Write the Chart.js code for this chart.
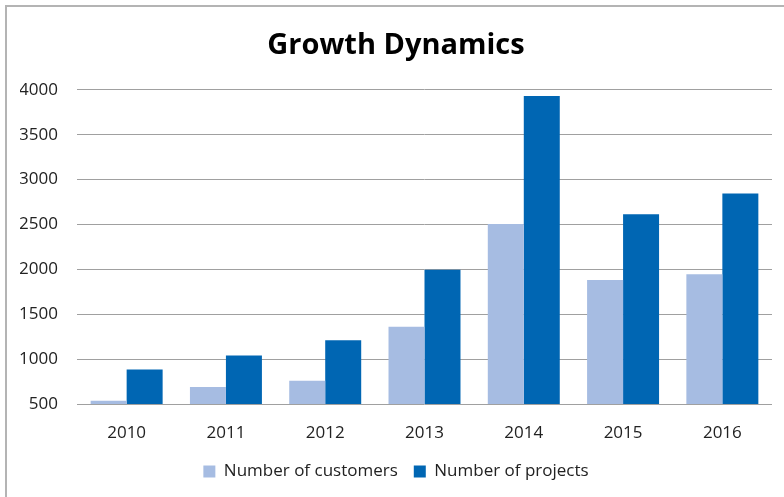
<!DOCTYPE html>
<html lang="en">
<head>
  <meta charset="UTF-8">
  <title>Growth Dynamics</title>
  <script src="https://cdn.jsdelivr.net/npm/chart.js"></script>
  <style>
    html, body { margin: 0; padding: 0; background: #fff; }
    #frame {
      position: absolute; left: 5px; top: 5px; width: 820px; height: 540px;
      border-left: 2px solid #b4b4b4; border-top: 2px solid #b4b4b4;
    }
    #growthChart { position: absolute; left: 0; top: 0; }
  </style>
</head>
<body>
<div id="frame"></div>
<canvas id="growthChart" width="784" height="497"></canvas>
<script>
  // values
  const years = ['2010', '2011', '2012', '2013', '2014', '2015', '2016'];
  const customers = [535, 690, 760, 1360, 2505, 1880, 1945];
  const projects = [885, 1040, 1210, 1995, 3930, 2615, 2845];
  const yTicks = [500, 1000, 1500, 2000, 2500, 3000, 3500, 4000];

  const fontFamily = '"Open Sans", sans-serif';

  const ctx = document.getElementById('growthChart').getContext('2d');
  new Chart(ctx, {
    type: 'bar',
    data: {
      labels: years,
      datasets: [
        {
          label: 'Number of customers',
          data: customers,
          backgroundColor: '#a6bce2',
          categoryPercentage: 0.725,
          barPercentage: 1.0
        },
        {
          label: 'Number of projects',
          data: projects,
          backgroundColor: '#0066b3',
          categoryPercentage: 0.725,
          barPercentage: 1.0
        }
      ]
    },
    options: {
      responsive: false,
      animation: false,
      layout: { padding: { left: 20, right: 12, top: 0, bottom: 7 } },
      plugins: {
        title: {
          display: true,
          text: 'Growth Dynamics',
          color: '#000',
          font: { family: fontFamily, size: 29, weight: 'bold' },
          padding: { top: 28, bottom: 27 }
        },
        legend: {
          position: 'bottom',
          labels: {
            color: '#222',
            font: { family: fontFamily, size: 17 },
            boxWidth: 12,
            boxHeight: 12,
            padding: 16
          }
        },
        tooltip: { enabled: false }
      },
      scales: {
        x: {
          grid: { display: false, drawTicks: false },
          border: { display: false },
          ticks: { color: '#222', font: { family: fontFamily, size: 17 }, padding: 19 },
          afterFit: (scale) => { scale.height = 43; }
        },
        y: {
          min: yTicks[0],
          max: yTicks[yTicks.length - 1],
          afterBuildTicks: (scale) => { scale.ticks = yTicks.map(v => ({ value: v })); },
          grid: { color: '#a0a0a0', lineWidth: 1, drawTicks: false },
          border: { display: false },
          ticks: {
            color: '#222',
            font: { family: fontFamily, size: 17 },
            padding: 19,
            callback: (v) => String(v)
          },
          afterFit: (scale) => { scale.width = 57; }
        }
      }
    }
  });
</script>
</body>
</html>
